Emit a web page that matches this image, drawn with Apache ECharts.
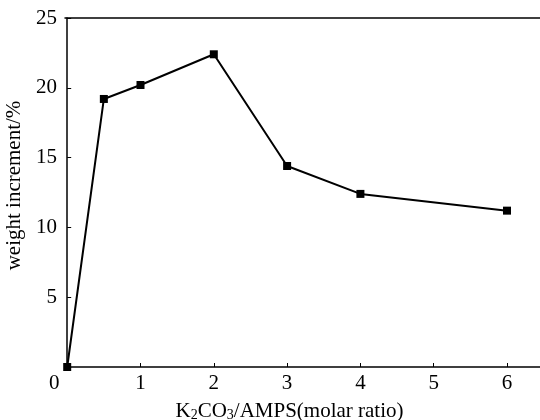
<!DOCTYPE html>
<html>
<head>
<meta charset="utf-8">
<script src="https://cdn.jsdelivr.net/npm/echarts@6/dist/echarts.min.js"></script>
<style>
  html, body { margin: 0; padding: 0; background: #fff; }
  #chart { width: 540px; height: 420px; }
</style>
</head>
<body>
<div id="chart"></div>
<script>
// K2CO3/AMPS molar ratio vs weight increment
const ratios = [0, 0.5, 1, 2, 3, 4, 6];
const weightIncrement = [0, 19.2, 20.2, 22.4, 14.4, 12.4, 11.2];
const yTicks = [5, 10, 15, 20, 25];

const font = "'Liberation Serif', 'DejaVu Serif', serif";
const black = "#000";

let chart = echarts.init(document.getElementById("chart"));

let options = {
  animation: false,
  grid: { left: 65, top: 18, right: 0, bottom: 53, outerBoundsMode: "none", containLabel: false },
  xAxis: [
    {
      type: "value",
      min: -0.03,
      max: 6.45,
      splitLine: { show: false },
      axisLine: { lineStyle: { color: black, width: 1.5 } },
      axisTick: { inside: true, length: 4, lineStyle: { color: black } },
      axisLabel: {
        margin: 6,
        color: black,
        fontFamily: font,
        fontSize: 21,
        formatter: (v) => {
          if (!Number.isInteger(v)) return "";
          return v === 0 ? "{z|0}" : String(v);
        },
        rich: { z: { fontFamily: font, fontSize: 21, color: black, padding: [0, 26, 0, 0] } },
      },
      name: "{a|K}{s|2}{a|CO}{s|3}{a|/AMPS(molar ratio)}",
      nameLocation: "middle",
      nameGap: 33,
      nameTextStyle: {
        padding: [0, 26, 0, 0],
        rich: {
          a: { fontFamily: font, fontSize: 21, color: black, lineHeight: 22, verticalAlign: "bottom" },
          s: { fontFamily: font, fontSize: 14, color: black, lineHeight: 4, verticalAlign: "bottom" },
        },
      },
    },
    {
      type: "value",
      position: "top",
      min: -0.03,
      max: 6.45,
      splitLine: { show: false },
      axisLine: { lineStyle: { color: black, width: 1.5 } },
      axisTick: { show: false },
      axisLabel: { show: false },
    },
  ],
  yAxis: {
    type: "value",
    min: 0,
    max: 25,
    interval: 5,
    splitLine: { show: false },
    axisLine: { show: true, lineStyle: { color: black, width: 1.5 } },
    axisTick: { show: true, inside: true, length: 4, lineStyle: { color: black } },
    axisLabel: {
      margin: 8,
      color: black,
      fontFamily: font,
      fontSize: 21,
      formatter: (v) => (yTicks.includes(v) ? String(v) : ""),
    },
    name: "weight increment/%",
    nameLocation: "middle",
    nameGap: 40,
    nameTextStyle: { fontFamily: font, fontSize: 21, color: black, padding: [0, 0, 0, 14] },
  },
  series: [
    {
      type: "line",
      data: ratios.map((r, i) => [r, weightIncrement[i]]),
      symbol: "rect",
      symbolSize: 8,
      lineStyle: { color: black, width: 2 },
      itemStyle: { color: black },
      clip: false,
    },
  ],
};

chart.setOption(options);
</script>
</body>
</html>
